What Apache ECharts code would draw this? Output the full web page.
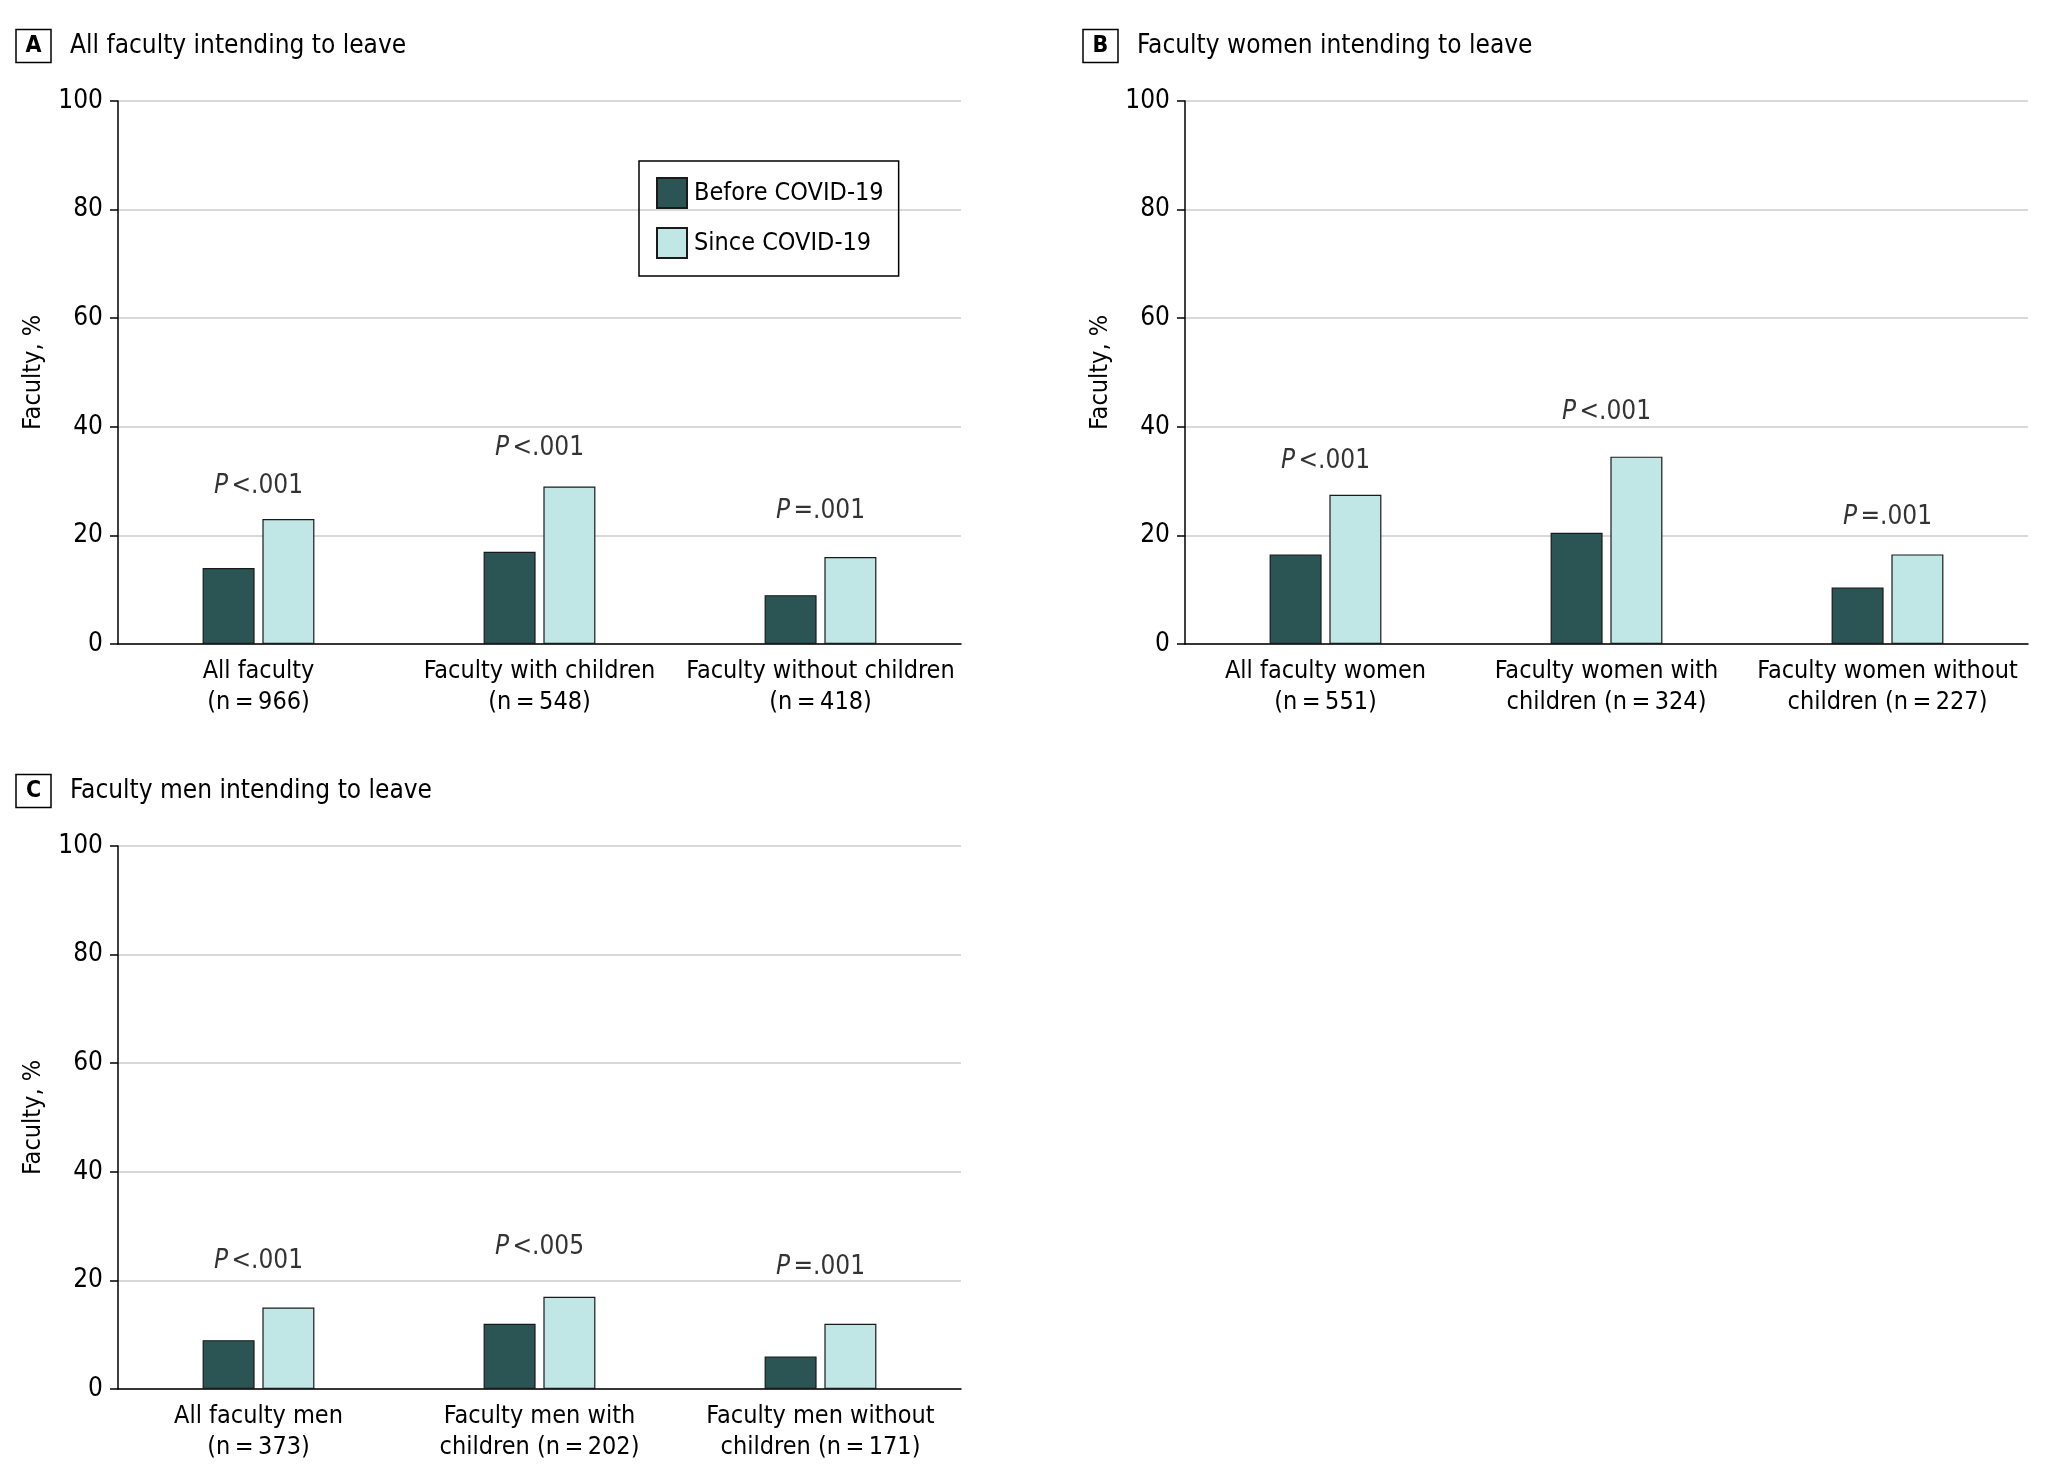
<!DOCTYPE html>
<html><head><meta charset="utf-8">
<script src="https://cdn.jsdelivr.net/npm/echarts@6/dist/echarts.min.js"></script>
<style>html,body{margin:0;padding:0;background:#fff}#c{width:2048px;height:1484px}</style>
</head><body><div id="c"></div>
<script>
// ---- data ----
const seriesNames = ['Before COVID-19', 'Since COVID-19'];

const catsA = ['All faculty\n(n\u2009=\u2009966)', 'Faculty with children\n(n\u2009=\u2009548)', 'Faculty without children\n(n\u2009=\u2009418)'];
const beforeA = [14, 17, 9];
const sinceA = [23, 29, 16];
const pTextA = ['<.001', '<.001', '=.001'];
const pPosA = [29, 36, 24.5];

const catsB = ['All faculty women\n(n\u2009=\u2009551)', 'Faculty women with\nchildren (n\u2009=\u2009324)', 'Faculty women without\nchildren (n\u2009=\u2009227)'];
const beforeB = [16.5, 20.5, 10.4];
const sinceB = [27.5, 34.5, 16.5];
const pTextB = ['<.001', '<.001', '=.001'];
const pPosB = [33.7, 42.6, 23.4];

const catsC = ['All faculty men\n(n\u2009=\u2009373)', 'Faculty men with\nchildren (n\u2009=\u2009202)', 'Faculty men without\nchildren (n\u2009=\u2009171)'];
const beforeC = [9, 12, 6];
const sinceC = [15, 17, 12];
const pTextC = ['<.001', '<.005', '=.001'];
const pPosC = [23.5, 26.1, 22.5];

const yTicks = { min: 0, max: 100, interval: 20 };
const titles = [['A', 'All faculty intending to leave'], ['B', 'Faculty women intending to leave'], ['C', 'Faculty men intending to leave']];

// ---- style ----
const FONT = '"DejaVu Sans Condensed", "Liberation Sans Narrow", sans-serif';
const DARK = '#2b5454';
const LIGHT = '#c0e6e6';
const grids = [
  { left: 118, top: 101, width: 843, height: 543 },
  { left: 1185, top: 101, width: 843, height: 543 },
  { left: 118, top: 846, width: 843, height: 543 }
];
const titlePos = [{ left: 16, top: 29 }, { left: 1083, top: 29 }, { left: 16, top: 774 }];
const panels = [
  [catsA, beforeA, sinceA, pTextA, pPosA],
  [catsB, beforeB, sinceB, pTextB, pPosB],
  [catsC, beforeC, sinceC, pTextC, pPosC]
];

const option = {
  backgroundColor: '#fff',
  animation: false,
  textStyle: { fontFamily: FONT, color: '#000' },
  title: titles.map((t, i) => ({
    left: titlePos[i].left, top: titlePos[i].top, padding: 0,
    text: '{b|' + t[0] + '}{t|' + t[1] + '}',
    textStyle: {
      fontWeight: 'normal',
      rich: {
        b: { fontFamily: FONT, fontSize: 23, fontWeight: 'bold', color: '#000', borderColor: '#000', borderWidth: 1.5, width: 35, height: 32, align: 'center', lineHeight: 34, padding: [1, 0, 0, 0] },
        t: { fontFamily: FONT, fontSize: 26, fontWeight: 'normal', color: '#000', padding: [0, 0, 0, 19] }
      }
    }
  })),
  legend: {
    data: seriesNames,
    orient: 'vertical', left: 639, top: 161,
    padding: [16, 15, 17, 17],
    itemWidth: 30, itemHeight: 30, itemGap: 18,
    borderColor: '#000', borderWidth: 1.5,
    textStyle: { fontFamily: FONT, fontSize: 25, color: '#000', padding: [0, 0, 0, 2] },
    icon: 'rect'
  },
  grid: grids,
  xAxis: panels.map((p, i) => ({
    type: 'category', gridIndex: i, data: p[0],
    axisLine: { lineStyle: { color: '#000', width: 1.5 } },
    axisTick: { show: false },
    axisLabel: { fontFamily: FONT, fontSize: 25, color: '#000', lineHeight: 31, margin: 12, interval: 0 }
  })),
  yAxis: panels.map((p, i) => ({
    type: 'value', gridIndex: i, min: yTicks.min, max: yTicks.max, interval: yTicks.interval,
    name: 'Faculty, %', nameLocation: 'middle', nameGap: 72,
    nameTextStyle: { fontFamily: FONT, fontSize: 25, color: '#000' },
    axisLine: { show: true, lineStyle: { color: '#000', width: 1.5 } },
    axisTick: { show: true, length: 8, lineStyle: { color: '#000', width: 1.5 } },
    axisLabel: { fontFamily: FONT, fontSize: 26, color: '#000', margin: 15 },
    splitLine: { lineStyle: { color: '#d9d9d9', width: 2 } }
  })),
  series: []
};

panels.forEach((p, i) => {
  option.series.push({
    name: seriesNames[0], type: 'bar', xAxisIndex: i, yAxisIndex: i, data: p[1],
    barWidth: 52, barGap: '15%',
    itemStyle: { color: DARK, borderColor: '#1a1a1a', borderWidth: 1.2 }
  });
  option.series.push({
    name: seriesNames[1], type: 'bar', xAxisIndex: i, yAxisIndex: i, data: p[2],
    barWidth: 52, barGap: '15%',
    itemStyle: { color: LIGHT, borderColor: '#1a1a1a', borderWidth: 1.2 }
  });
  option.series.push({
    name: 'P', type: 'scatter', xAxisIndex: i, yAxisIndex: i,
    data: p[4].map((v, k) => ({ value: v, ptxt: p[3][k] })),
    symbolSize: 1, itemStyle: { color: 'rgba(0,0,0,0)' }, silent: true,
    label: {
      show: true, position: 'inside',
      formatter: (d) => '{i|P} {n|' + d.data.ptxt + '}',
      rich: {
        i: { fontFamily: FONT, fontSize: 26, fontStyle: 'italic', color: '#000' },
        n: { fontFamily: FONT, fontSize: 26, color: '#000' }
      }
    }
  });
});

const chart = echarts.init(document.getElementById('c'));
chart.setOption(option);
</script>
</body></html>
